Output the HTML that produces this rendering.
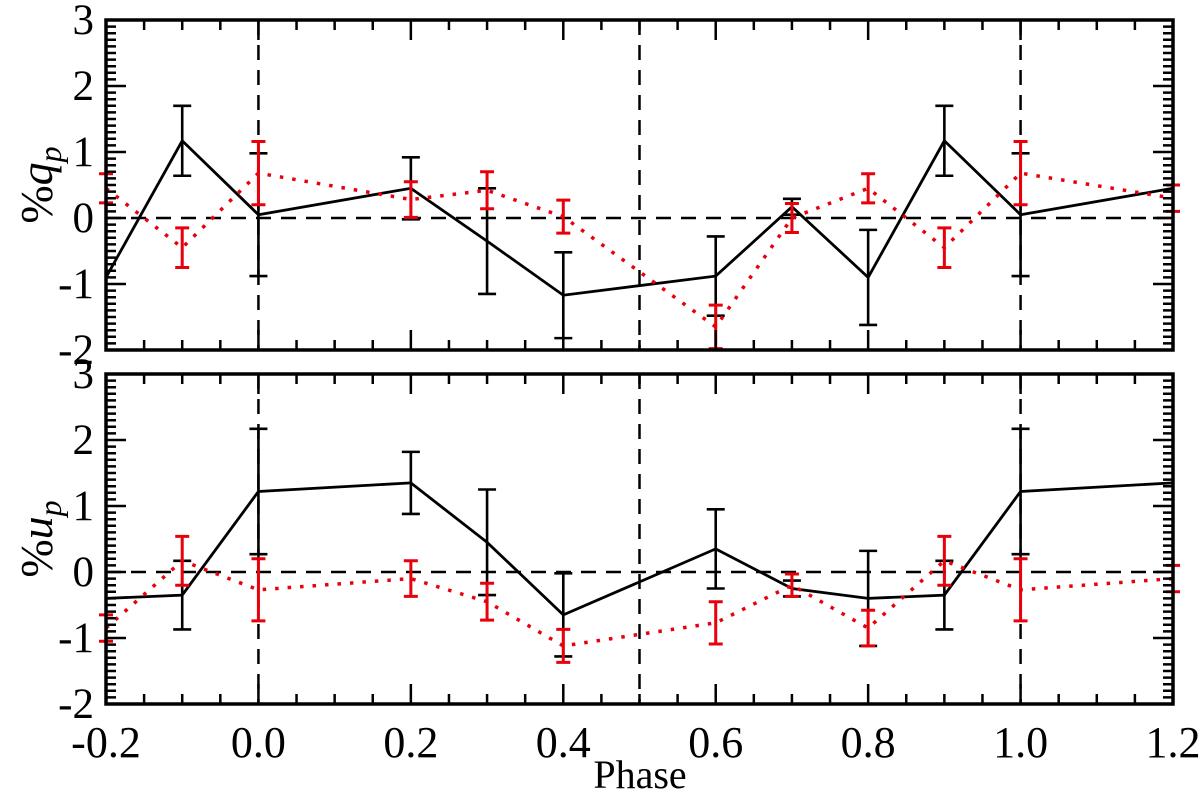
<!DOCTYPE html>
<html><head><meta charset="utf-8"><style>
html,body{margin:0;padding:0;background:#fff}
svg{display:block}
text{font-family:'Liberation Serif','DejaVu Serif',serif;fill:#000}
</style></head><body>
<svg id="chart" width="1200" height="795" viewBox="0 0 1200 795"></svg>
<script>
const phases=[-0.2,-0.1,0.0,0.2,0.3,0.4,0.6,0.7,0.8,0.9,1.0,1.2];
const qBlack=[-0.9,1.17,0.05,0.45,-0.35,-1.17,-0.88,0.17,-0.9,1.17,0.05,0.45];
const qBlackErr=[0,0.53,0.93,0.47,0.8,0.65,0.6,0.12,0.72,0.53,0.93,0];
const qRed=[0.45,-0.45,0.68,0.28,0.42,0.02,-1.65,0.0,0.45,-0.45,0.68,0.3];
const qRedErr=[0.22,0.3,0.48,0.27,0.28,0.25,0.33,0.22,0.22,0.3,0.48,0.2];
const uBlack=[-0.4,-0.35,1.22,1.35,0.45,-0.65,0.35,-0.25,-0.4,-0.35,1.22,1.35];
const uBlackErr=[0,0.52,0.95,0.47,0.8,0.63,0.6,0.12,0.72,0.52,0.95,0];
const uRed=[-0.85,0.17,-0.27,-0.1,-0.45,-1.12,-0.77,-0.2,-0.85,0.17,-0.27,-0.1];
const uRedErr=[0.2,0.37,0.47,0.27,0.28,0.25,0.32,0.17,0.27,0.37,0.47,0.2];
const xTicks=[-0.2,0.0,0.2,0.4,0.6,0.8,1.0,1.2];
const xTickLabels=["-0.2","0.0","0.2","0.4","0.6","0.8","1.0","1.2"];
const yTicks=[-2,-1,0,1,2,3];
const vLines=[0.0,0.5,1.0];

const NS="http://www.w3.org/2000/svg";
const FONT="Liberation Serif, DejaVu Serif, serif";
const svg=document.getElementById('chart');
const X0=106,X1=1173;
const xs=p=>X0+(p+0.2)/1.4*(X1-X0);
function el(tag,attrs,parent){const e=document.createElementNS(NS,tag);for(const k in attrs)e.setAttribute(k,attrs[k]);if(tag==='text')e.setAttribute('font-family',FONT);(parent||svg).appendChild(e);return e;}

function panel(name,top,bottom,black,blackErr,red,redErr,label,showX){
  const g=el('g',{});
  
  
  const ys=v=>bottom-(v+2)/5*(bottom-top);
  for(const v of vLines){
    const l=el('line',{x1:xs(v),x2:xs(v),y1:top,y2:bottom,stroke:'#000','stroke-width':2.5,'stroke-dasharray':'15,10'},g);
    
    
  }
  const z=el('line',{x1:X0,x2:X1,y1:ys(0),y2:ys(0),stroke:'#000','stroke-width':2.5,'stroke-dasharray':'15,10'},g);
  
  
  const bp=el('polyline',{points:phases.map((p,i)=>xs(p)+','+ys(black[i])).join(' '),fill:'none',stroke:'#000','stroke-width':2.8},g);
  
  
  phases.forEach((p,i)=>{
    if(!blackErr[i])return;
    const x=xs(p),a=ys(black[i]+blackErr[i]),b=ys(black[i]-blackErr[i]);
    const e=el('path',{d:`M${x},${a}V${b}M${x-9},${a}H${x+9}M${x-9},${b}H${x+9}`,stroke:'#000','stroke-width':2.6,fill:'none'},g);
    
    
  });
  const rp=el('polyline',{points:phases.map((p,i)=>xs(p)+','+ys(red[i])).join(' '),fill:'none',stroke:'#e8000b','stroke-width':3.5,'stroke-dasharray':'3.5,9'},g);
  
  
  phases.forEach((p,i)=>{
    const x=xs(p),a=ys(red[i]+redErr[i]),b=ys(red[i]-redErr[i]);
    const e=el('path',{d:`M${x},${a}V${b}M${x-7},${a}H${x+7}M${x-7},${b}H${x+7}`,stroke:'#e8000b','stroke-width':3,fill:'none'},g);
    
    
  });
  let d='';
  for(let k=0;k<=28;k++){const x=xs(-0.2+k*0.05);const len=(k%4===0)?20:10;d+=`M${x},${bottom}v${-len}M${x},${top}v${len}`;}
  for(let k=0;k<=50;k++){const y=bottom-k*(bottom-top)/50;const len=(k%10===0)?20:10;d+=`M${X0},${y}h${len}M${X1},${y}h${-len}`;}
  el('path',{d:d,stroke:'#000','stroke-width':2.5,fill:'none'},g);
  const fr=el('rect',{x:X0,y:top,width:X1-X0,height:bottom-top,fill:'none',stroke:'#000','stroke-width':3.5},g);
  
  
  for(const v of yTicks){
    const t=el('text',{x:X0-12,y:ys(v)+14,'text-anchor':'end','font-size':43},g);
    t.textContent=v;
    
    
  }
  const yl=el('text',{transform:`translate(52,${(top+bottom)/2}) rotate(-90)`,'text-anchor':'middle','font-size':46},g);
  
  
  const t1=el('tspan',{},yl);t1.textContent='%';
  const t2=el('tspan',{'font-style':'italic'},yl);t2.textContent=label;
  const t3=el('tspan',{'font-style':'italic','font-size':32,dy:9},yl);t3.textContent='p';
  if(showX){
    xTicks.forEach((v,i)=>{
      const t=el('text',{x:xs(v),y:bottom+53,'text-anchor':'middle','font-size':44},g);
      t.textContent=xTickLabels[i];
      
      
    });
  }
}
panel('qp',20,350,qBlack,qBlackErr,qRed,qRedErr,'q',false);
panel('up',374,704,uBlack,uBlackErr,uRed,uRedErr,'u',true);
const xt=el('text',{x:640,y:788,'text-anchor':'middle','font-size':40});
xt.textContent='Phase';


</script>
</body></html>
